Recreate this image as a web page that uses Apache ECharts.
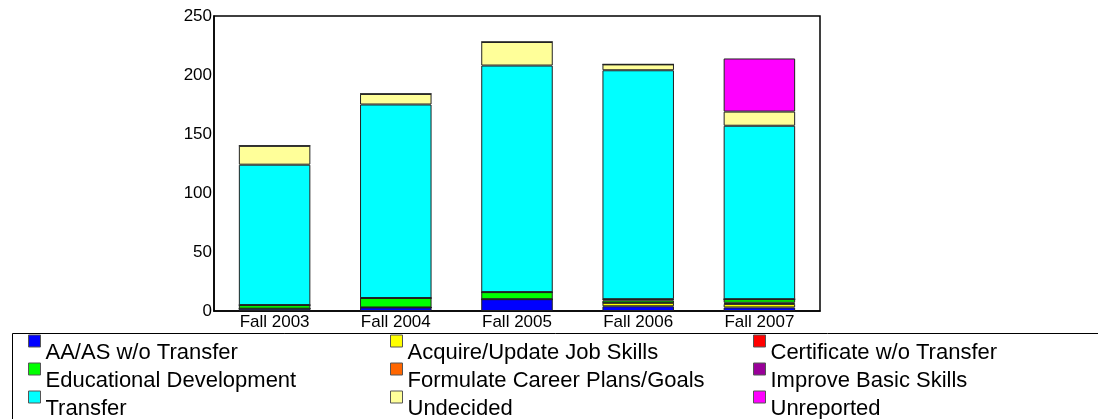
<!DOCTYPE html>
<html>
<head>
<meta charset="utf-8">
<script src="https://cdn.jsdelivr.net/npm/echarts@6/dist/echarts.min.js"></script>
<style>
  html, body { margin: 0; padding: 0; background: #fff; }
  #chart { width: 1098px; height: 419px; }
</style>
</head>
<body>
<div id="chart"></div>
<script>
// terms
var terms = ['Fall 2003', 'Fall 2004', 'Fall 2005', 'Fall 2006', 'Fall 2007'];

// series values
var aaAs        = [2, 3, 10, 4, 3];
var acquireJob  = [0, 0, 0, 3, 3];
var certificate = [0, 0, 0, 0, 1];
var eduDev      = [3, 8, 6, 2, 3];
var formulate   = [0, 0, 0, 1, 0];
var improve     = [0, 0, 0, 0, 0];
var transfer    = [119, 164, 192, 194, 147];
var undecided   = [16, 9, 20, 5, 12];
var unreported  = [0, 0, 0, 0, 45];

var yTicks = [0, 50, 100, 150, 200, 250];

var seriesDefs = [
  { name: 'AA/AS w/o Transfer', data: aaAs, color: '#0000ff' },
  { name: 'Acquire/Update Job Skills', data: acquireJob, color: '#ffff00' },
  { name: 'Certificate w/o Transfer', data: certificate, color: '#ff0000' },
  { name: 'Educational Development', data: eduDev, color: '#00ff00' },
  { name: 'Formulate Career Plans/Goals', data: formulate, color: '#ff6600' },
  { name: 'Improve Basic Skills', data: improve, color: '#990099' },
  { name: 'Transfer', data: transfer, color: '#00ffff' },
  { name: 'Undecided', data: undecided, color: '#ffff99' },
  { name: 'Unreported', data: unreported, color: '#ff00ff' }
];

var font = 'Liberation Sans, Arial, sans-serif';

// legend: 3 columns x 3 rows, one legend per entry so each sits in its cell
var colLeft = [28, 390, 753];
var rowTop = [318, 346, 374];

function legendItem (i) {
  return {
    orient: 'horizontal',
    left: colLeft[i % 3],
    top: rowTop[Math.floor(i / 3)],
    padding: 0,
    itemWidth: 12,
    itemHeight: 12,
    icon: 'rect',
    selectedMode: false,
    itemStyle: { borderColor: '#555', borderWidth: 1 },
    formatter: '{t|{name}}',
    textStyle: {
      rich: {
        t: { fontFamily: font, fontSize: 22, color: '#000', lineHeight: 22, padding: [24, 0, 0, 0] }
      }
    },
    data: [seriesDefs[i].name]
  }
}

var chart = echarts.init(document.getElementById('chart'));
var option = {
  backgroundColor: '#fff',
  animation: false,
  grid: {
    left: 214,
    right: 278,
    top: 16,
    bottom: 108,
    show: true,
    borderColor: '#000',
    borderWidth: 1.5,
    containLabel: false
  },
  legend: seriesDefs.map(function (s, i) { return legendItem(i) }),
  graphic: [{
    type: 'rect',
    shape: { x: 12.5, y: 333.5, width: 1100, height: 100 },
    style: { fill: 'none', stroke: '#000', lineWidth: 1 },
    silent: true
  }],
  xAxis: {
    type: 'category',
    data: terms,
    axisLine: { lineStyle: { color: '#000', width: 1.5 } },
    axisTick: { show: false },
    axisLabel: { fontFamily: font, fontSize: 17, color: '#000', margin: 3 }
  },
  yAxis: {
    type: 'value',
    min: yTicks[0],
    max: yTicks[yTicks.length - 1],
    interval: 50,
    splitLine: { show: false },
    axisLine: { show: true, lineStyle: { color: '#000', width: 1.5 } },
    axisTick: { show: false },
    axisLabel: { fontFamily: font, fontSize: 17, color: '#000', margin: 2 }
  },
  series: seriesDefs.map(function (s) {
    return {
      name: s.name,
      type: 'bar',
      stack: 'total',
      barWidth: '59%',
      data: s.data,
      itemStyle: { color: s.color, borderColor: '#222', borderWidth: 1 }
    }
  })
};
chart.setOption(option);
</script>
</body>
</html>
